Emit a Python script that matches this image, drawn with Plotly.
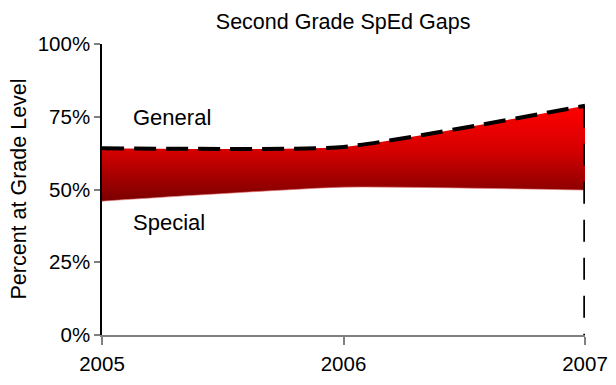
import plotly.graph_objects as go

# Percent of second graders at grade level, by year
years = [2005, 2006, 2007]
general = [64.2, 64.6, 78.8]
special = [46.0, 50.8, 49.8]
y_ticks = [0, 25, 50, 75, 100]
y_tick_text = ["0%", "25%", "50%", "75%", "100%"]

FONT = "Liberation Sans, Arial, sans-serif"
SMOOTH = 0.45

fig = go.Figure()

# lower edge of the gap band
fig.add_trace(go.Scatter(
    x=years, y=special, mode="lines",
    line=dict(color="rgba(230,120,120,0.6)", width=1, shape="spline", smoothing=SMOOTH),
    hoverinfo="skip", showlegend=False,
))

# upper edge, filled down to the lower edge with a vertical red gradient
fig.add_trace(go.Scatter(
    x=years, y=general, mode="lines",
    line=dict(color="rgba(0,0,0,0)", width=1, shape="spline", smoothing=SMOOTH),
    fill="tonexty",
    fillgradient=dict(
        type="vertical",
        colorscale=[[0, "#7a0000"], [0.55, "#d80000"], [1, "#ff0000"]],
        start=min(special), stop=max(general),
    ),
    hoverinfo="skip", showlegend=False,
))

# dashed outline along the general line
fig.add_trace(go.Scatter(
    x=years, y=general, mode="lines",
    line=dict(color="black", width=4, dash="22px,10px", shape="spline", smoothing=SMOOTH),
    hoverinfo="skip", showlegend=False,
))

# dashed drop line at the final year
fig.add_trace(go.Scatter(
    x=[years[-1], years[-1]], y=[general[-1], 0], mode="lines",
    line=dict(color="black", width=3.5, dash="22px,16px"),
    hoverinfo="skip", showlegend=False,
))

fig.add_annotation(x=years[0], y=general[0] + 4, text="General", showarrow=False,
                   xanchor="left", yanchor="bottom", xshift=29, yshift=5,
                   font=dict(family=FONT, size=22, color="black"))
fig.add_annotation(x=years[0], y=special[0] - 2.5, text="Special", showarrow=False,
                   xanchor="left", yanchor="top", xshift=29,
                   font=dict(family=FONT, size=22, color="black"))

# y-axis title, placed to the left of the tick labels
fig.add_annotation(x=0, xref="paper", y=0.5, yref="paper", xshift=-84,
                   text="Percent at Grade Level", textangle=-90, showarrow=False,
                   xanchor="center", yanchor="middle",
                   font=dict(family=FONT, size=21.5, color="black"))

fig.update_layout(
    width=616, height=385,
    margin=dict(l=102, r=31, t=44, b=50),
    paper_bgcolor="white", plot_bgcolor="white",
    font=dict(family=FONT, size=20, color="black"),
    title=dict(text="Second Grade SpEd Gaps", x=0.557, xanchor="center",
               y=0.945, yanchor="middle", font=dict(family=FONT, size=21.5)),
    xaxis=dict(
        range=[2005, 2007], tickvals=years, ticktext=[str(y) for y in years],
        showgrid=False, zeroline=False, showline=True, linecolor="#808080", linewidth=2,
        ticks="outside", ticklen=8, tickcolor="#808080", tickwidth=1.5,
        tickfont=dict(size=20.5), ticklabelstandoff=1, automargin=False,
    ),
    yaxis=dict(
        range=[0, 100], tickvals=y_ticks, ticktext=y_tick_text,
        showgrid=False, zeroline=False, showline=True, linecolor="black", linewidth=1.5,
        ticks="outside", ticklen=6, tickcolor="#808080", tickwidth=1.5,
        tickfont=dict(size=20.5), automargin=False,
    ),
)

fig.write_html("out.html")
